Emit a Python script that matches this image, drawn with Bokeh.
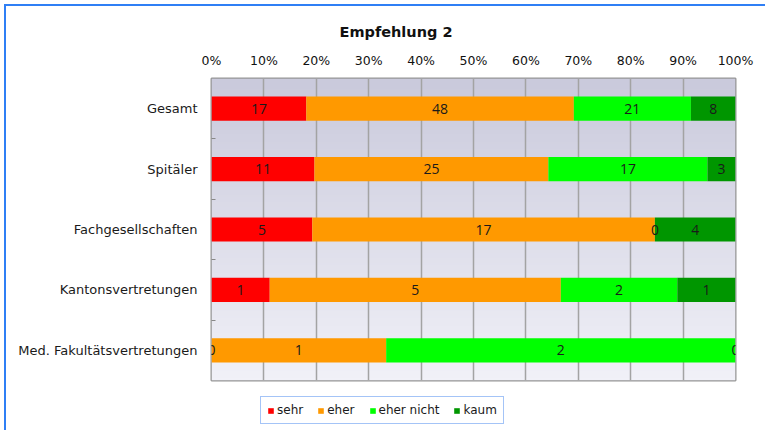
import numpy as np
from bokeh.plotting import figure
from bokeh.layouts import column
from bokeh.models import (FixedTicker, PrintfTickFormatter, Legend, LegendItem,
                          ColumnDataSource, LinearAxis, Range1d, Title, LabelSet)
from bokeh.core.properties import value
from bokeh.embed import file_html
from bokeh.resources import INLINE

title = "Empfehlung 2"
categories = ["Gesamt", "Spitäler", "Fachgesellschaften",
              "Kantonsvertretungen", "Med. Fakultätsvertretungen"]
series = ["sehr", "eher", "eher nicht", "kaum"]
sehr = [17, 11, 5, 1, 0]
eher = [48, 25, 17, 5, 1]
eher_nicht = [21, 17, 0, 2, 2]
kaum = [8, 3, 4, 1, 0]
colors = ["#ff0000", "#ff9900", "#00ff00", "#009600"]
x_ticks = [0, 10, 20, 30, 40, 50, 60, 70, 80, 90, 100]

counts = np.array([sehr, eher, eher_nicht, kaum], dtype=float)
totals = counts.sum(axis=0)
pct = counts / totals * 100.0
n = len(categories)
ypos = [n - i - 0.5 for i in range(n)]

data = {"y": ypos}
for k, s in enumerate(series):
    data[s] = list(pct[k])
src = ColumnDataSource(data)

p = figure(frame_width=524, frame_height=302, output_backend="svg", toolbar_location=None,
           x_range=Range1d(0, 100), y_range=Range1d(0, n),
           x_axis_location=None, y_axis_location=None,
           min_border_left=205, min_border_right=30,
           min_border_top=72, min_border_bottom=2)

# gradient background for the frame
rows = 120
img = np.zeros((rows, 1), dtype=np.uint32)
view = img.view(dtype=np.uint8).reshape((rows, 1, 4))
top = np.array([202, 202, 220]); bot = np.array([241, 241, 248])
for r in range(rows):
    t = r / (rows - 1)  # 0 bottom, 1 top
    c = bot * (1 - t) + top * t
    view[r, 0, 0:3] = c.astype(np.uint8)
    view[r, 0, 3] = 255
p.image_rgba(image=[img], x=0, y=0, dw=100, dh=n, level="image")

p.background_fill_color = "#e0e0ec"
p.outline_line_color = "#959595"
p.outline_line_width = 2

p.xgrid.ticker = FixedTicker(ticks=x_ticks)
p.xgrid.grid_line_color = "#a3a3a3"
p.xgrid.grid_line_width = 1.5
p.xgrid.level = "underlay"
p.ygrid.grid_line_color = None

rs = p.hbar_stack(series, y="y", height=0.4, color=colors, source=src,
                  line_color=None)

# labels at segment centres
for k, s in enumerate(series):
    left = pct[:k].sum(axis=0)
    centre = left + pct[k] / 2
    lsrc = ColumnDataSource({"x": list(centre), "y": ypos,
                             "t": [str(int(v)) for v in counts[k]]})
    p.add_layout(LabelSet(x="x", y="y", text="t", source=lsrc,
                          text_align="center", text_baseline="middle",
                          text_font=value("Open Sans"), text_font_size="14px",
                          text_color="#1a1a1a"))

xa = LinearAxis(ticker=FixedTicker(ticks=x_ticks),
                formatter=PrintfTickFormatter(format="%d%%"))
xa.axis_line_color = None
xa.major_tick_line_color = None
xa.minor_tick_line_color = None
xa.major_tick_out = 0
xa.major_label_standoff = 11
xa.major_label_text_font = "DejaVu Sans"
xa.major_label_text_font_size = "12.5px"
xa.major_label_text_color = "#111111"
p.add_layout(xa, "above")

ya = LinearAxis(ticker=FixedTicker(ticks=ypos, minor_ticks=[1, 2, 3, 4]),
                major_label_overrides={y: c for y, c in zip(ypos, categories)})
ya.axis_line_color = None
ya.major_tick_line_color = None
ya.major_tick_out = 0
ya.minor_tick_in = 4
ya.minor_tick_out = 0
ya.minor_tick_line_color = "#888888"
ya.major_label_standoff = 14
ya.major_label_text_font = "DejaVu Sans"
ya.major_label_text_font_size = "13px"
ya.major_label_text_color = "#1a1a1a"
p.add_layout(ya, "left")

p.add_layout(Title(text=title, text_font="DejaVu Sans", text_font_style="bold",
                   text_font_size="14.5px", align="left", offset=128, standoff=20,
                   text_color="#111111"), "above")

# legend strip below the chart (its frame is aligned with the chart's frame)
p2 = figure(width=759, height=48, output_backend="svg", toolbar_location=None,
            x_axis_location=None, y_axis_location=None,
            x_range=Range1d(0, 100), y_range=Range1d(0, n),
            min_border_left=0, min_border_right=0, min_border_top=0, min_border_bottom=0)
p2.grid.visible = False
p2.outline_line_color = None
rs2 = p2.hbar_stack(series, y="y", height=0, color=colors, source=src,
                    line_color=None)
legend = Legend(items=[LegendItem(label=s, renderers=[r]) for s, r in zip(series, rs2)],
                orientation="horizontal", location=(49, 6),
                glyph_width=7, glyph_height=7, label_standoff=3, spacing=14,
                padding=6, margin=0, label_height=14,
                label_text_font="DejaVu Sans", label_text_font_size="12px",
                label_text_color="#1a1a1a",
                border_line_color="#4a8af0", border_line_width=1.5,
                background_fill_color="white", background_fill_alpha=1)
p2.add_layout(legend, "center")

col = column(p, p2, spacing=0)
col.styles = {"border-left": "2px solid #2f7ff5", "border-top": "2px solid #2f7ff5",
              "transform": "translate(4px, 4px)"}

open("out.html", "w").write(file_html(col, INLINE))
